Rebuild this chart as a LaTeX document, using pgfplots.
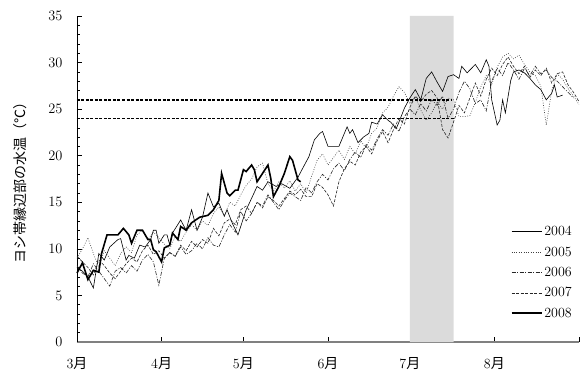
\documentclass[border=0pt]{standalone}
\usepackage{pgfplots}
\pgfplotsset{compat=1.18}
\usepackage{fontspec}
\newfontfamily\cjk{Noto Sans CJK JP}
\begin{document}
\begin{tikzpicture}
\begin{axis}[
  scale only axis, width=502pt, height=326pt,
  xmin=0, xmax=184, ymin=0, ymax=35,
  axis x line=bottom, axis y line=left,
  x axis line style={-, draw=gray, line width=1.4pt},
  y axis line style={-, draw=black, line width=0.6pt},
  xtick={0,31,61,92,122,153,184},
  xticklabels={3{\cjk 月},4{\cjk 月},5{\cjk 月},6{\cjk 月},7{\cjk 月},8{\cjk 月},},
  ytick={0,5,...,35},
  minor y tick num=4,
  tick align=inside,
  major tick length=5pt, minor tick length=3pt,
  every tick/.style={black, line width=0.5pt},
  tick label style={font=\fontsize{14}{16}\selectfont},
  xticklabel style={yshift=-12pt},
  yticklabel style={xshift=-11pt},
  ylabel={\cjk ヨシ帯縁辺部の水温（℃）},
  ylabel style={font=\fontsize{14}{16}\selectfont, at={(axis description cs:-0.113,0.5)}, anchor=center},
  legend style={draw=none, fill=none, at={(0.99,0.065)}, anchor=south east,
    font=\fontsize{14}{16}\selectfont, row sep=5.5pt, inner sep=0pt},
  legend cell align=left,
  legend image code/.code={\draw[#1] (0pt,0pt) -- (30pt,0pt);},
  clip=false,
]
\addplot[fill=black!14, draw=none, forget plot] coordinates {(122,0) (138,0) (138,35) (122,35)} \closedcycle;
\addplot[black, line width=0.6pt] coordinates {
(0,8.0) (2,7.6) (4,7.0) (6,5.8) (8,9.5) (10,8.8) (12,10.2) (15,11.0) (16,11.1) (18,8.8) (19,9.3) (21,9.0) (23,10.4) (25,10.2) (27,11.0) (28,12.0) (29,12.0) (30,10.6) (32,11.5) (33,11.5) (34,10.4) (35,11.7) (38,13.1) (40,12.0) (42,14.2) (44,12.0) (46,13.4) (48,16.0) (50,14.5) (52,14.9) (54,13.5) (55,14.2) (57,12.7) (59,11.5) (62,14.2) (63,14.8) (66,16.7) (68,16.3) (70,17.2) (73,16.7) (75,17.0) (78,16.5) (81,17.7) (83,18.8) (85,19.9) (87,21.7) (89,22.4) (90,22.6) (92,21.0) (94,21.0) (96,21.0) (97,21.7) (99,23.1) (100,22.4) (101,22.8) (103,21.4) (105,22.0) (107,22.4) (108,23.6) (110,23.4) (112,24.4) (114,23.8) (115,23.6) (117,22.9) (118,23.6) (120,25.1) (122,26.2) (124,27.1) (126,26.0) (128,28.3) (130,29.0) (132,27.9) (134,26.9) (136,28.5) (138,28.7) (140,28.3) (141,29.6) (143,28.9) (146,29.8) (148,28.9) (150,30.3) (151,29.6) (152,26.0) (154,23.3) (155,23.8) (156,26.0) (157,24.6) (159,28.1) (160,29.0) (162,29.2) (164,28.9) (166,28.3) (168,27.6) (170,27.1) (172,26.0) (174,26.7) (175,27.6) (176,26.3) (178,26.5)
};
\addlegendentry{2004}
\addplot[black!75, line width=0.6pt, dash pattern=on 0.8pt off 1.6pt] coordinates {
(0,9.0) (2,10.0) (4,11.2) (6,9.5) (8,8.0) (10,9.8) (12,9.0) (14,8.2) (16,9.5) (18,10.2) (20,9.6) (22,11.5) (24,12.0) (26,11.0) (28,11.8) (30,11.2) (32,10.5) (34,10.0) (36,11.3) (38,10.8) (40,11.8) (42,12.6) (44,12.0) (46,13.0) (48,12.5) (50,13.8) (52,14.5) (54,13.6) (56,15.0) (58,14.6) (60,15.8) (62,16.8) (64,17.5) (66,18.8) (68,19.2) (70,17.0) (72,16.2) (74,17.2) (76,16.5) (78,17.3) (80,16.2) (82,17.0) (84,16.0) (86,17.8) (88,19.5) (90,20.2) (92,19.0) (94,19.8) (96,20.6) (98,19.6) (100,21.0) (102,20.2) (104,21.6) (106,20.8) (108,22.4) (110,23.0) (112,24.6) (114,25.2) (116,26.4) (118,27.4) (120,26.8) (122,25.6) (124,26.3) (126,24.9) (128,23.8) (130,24.6) (132,25.8) (134,25.0) (136,26.2) (138,26.0) (140,24.2) (142,24.2) (144,24.3) (146,25.7) (148,27.4) (150,28.6) (152,27.6) (154,29.5) (156,30.6) (158,31.0) (160,30.4) (162,30.8) (164,29.8) (166,29.0) (168,28.6) (170,27.5) (172,23.3) (174,27.0) (176,28.8) (178,28.2) (180,27.2) (182,26.4) (184,25.5)
};
\addlegendentry{2005}
\addplot[black!85, line width=0.6pt, dash pattern=on 4pt off 1.5pt on 1pt off 1.5pt] coordinates {
(0,8.2) (2,7.4) (4,7.0) (6,8.4) (8,7.6) (10,6.8) (12,6.0) (14,7.6) (16,8.0) (18,7.4) (20,8.2) (22,7.6) (24,8.8) (26,9.4) (28,8.6) (30,6.1) (32,9.0) (34,9.6) (36,9.2) (38,10.2) (40,9.4) (42,9.8) (44,10.6) (46,10.0) (48,11.2) (50,10.4) (52,10.2) (54,11.5) (56,12.6) (58,11.8) (60,14.0) (62,13.0) (64,13.8) (66,15.0) (68,14.6) (70,15.8) (72,15.0) (74,14.2) (76,15.2) (78,16.0) (80,15.6) (82,15.2) (84,16.6) (86,16.0) (88,17.2) (90,18.0) (92,17.4) (94,18.6) (96,19.2) (98,18.4) (100,19.6) (102,20.4) (104,19.8) (106,21.2) (108,20.6) (110,21.8) (112,22.8) (114,22.2) (116,23.4) (118,22.6) (120,24.2) (122,25.0) (124,24.4) (126,25.6) (128,24.8) (130,26.0) (132,25.4) (134,26.4) (136,24.0) (138,25.0) (140,26.8) (142,28.0) (144,27.2) (146,25.6) (148,26.0) (150,24.8) (152,28.0) (154,29.4) (156,28.6) (158,30.0) (160,29.2) (162,28.2) (164,29.4) (166,28.6) (168,29.6) (170,28.8) (172,29.2) (174,28.4) (176,28.0) (178,27.4) (180,26.8) (182,26.2)
};
\addlegendentry{2006}
\addplot[black!85, line width=0.6pt, dash pattern=on 3pt off 1.5pt] coordinates {
(0,9.2) (2,8.6) (4,8.0) (6,7.2) (8,8.8) (10,8.2) (12,7.4) (14,6.8) (16,7.6) (18,8.4) (20,9.0) (22,8.6) (24,9.8) (26,10.4) (28,9.4) (30,9.8) (32,9.0) (34,9.6) (36,9.2) (38,10.4) (40,9.8) (42,10.8) (44,10.2) (46,11.0) (48,10.6) (50,12.2) (52,11.4) (54,12.8) (56,13.2) (58,12.6) (60,14.2) (62,14.6) (64,13.8) (66,15.0) (68,14.4) (70,15.6) (72,15.2) (74,14.6) (76,15.4) (78,16.2) (80,15.8) (82,16.4) (84,15.6) (86,15.6) (88,17.0) (90,16.6) (92,15.8) (94,14.6) (96,17.2) (98,18.6) (100,19.4) (102,19.0) (104,20.4) (106,21.0) (108,20.2) (110,21.6) (112,22.6) (114,21.4) (116,22.8) (118,24.0) (120,23.4) (122,25.2) (124,26.4) (126,25.8) (128,26.6) (130,27.0) (132,26.2) (134,22.8) (136,21.9) (138,23.6) (140,25.4) (142,24.6) (144,26.2) (146,27.8) (148,26.4) (150,28.2) (152,29.4) (154,28.6) (156,29.8) (158,30.6) (160,29.6) (162,28.8) (164,29.6) (166,28.4) (168,29.2) (170,28.6) (172,29.4) (174,27.8) (176,28.8) (178,29.0) (180,27.6) (182,26.8) (184,25.8)
};
\addlegendentry{2007}
\addplot[black, line width=1.6pt] coordinates {
(0,7.4) (2,8.5) (4,6.7) (6,7.7) (8,7.5) (9,9.5) (11,11.5) (15,11.5) (17,12.2) (19,11.5) (20,10.6) (22,12.0) (24,12.0) (26,11.0) (27,11.0) (28,9.9) (29,9.7) (31,8.6) (32,10.1) (34,10.4) (35,11.7) (37,11.0) (38,12.4) (40,12.0) (42,12.8) (45,13.4) (48,13.6) (50,14.2) (52,15.2) (53,18.1) (55,16.0) (56,15.7) (58,16.3) (59,16.3) (61,18.5) (62,18.3) (64,19.0) (65,18.5) (66,17.2) (68,18.1) (70,19.0) (71,17.6) (72,15.6) (74,16.7) (76,18.1) (78,19.9) (79,19.5) (81,17.4) (82,17.2)
};
\addlegendentry{2008}
\addplot[black, line width=1.4pt, dash pattern=on 3pt off 1.5pt, forget plot] coordinates {(0,26) (137,26)};
\addplot[black, line width=1.4pt, dash pattern=on 3pt off 1.5pt, forget plot] coordinates {(0,24) (138,24)};
\end{axis}
\pgfresetboundingbox
\useasboundingbox (-77pt,-30pt) rectangle (503pt,342pt);
\end{tikzpicture}
\end{document}
